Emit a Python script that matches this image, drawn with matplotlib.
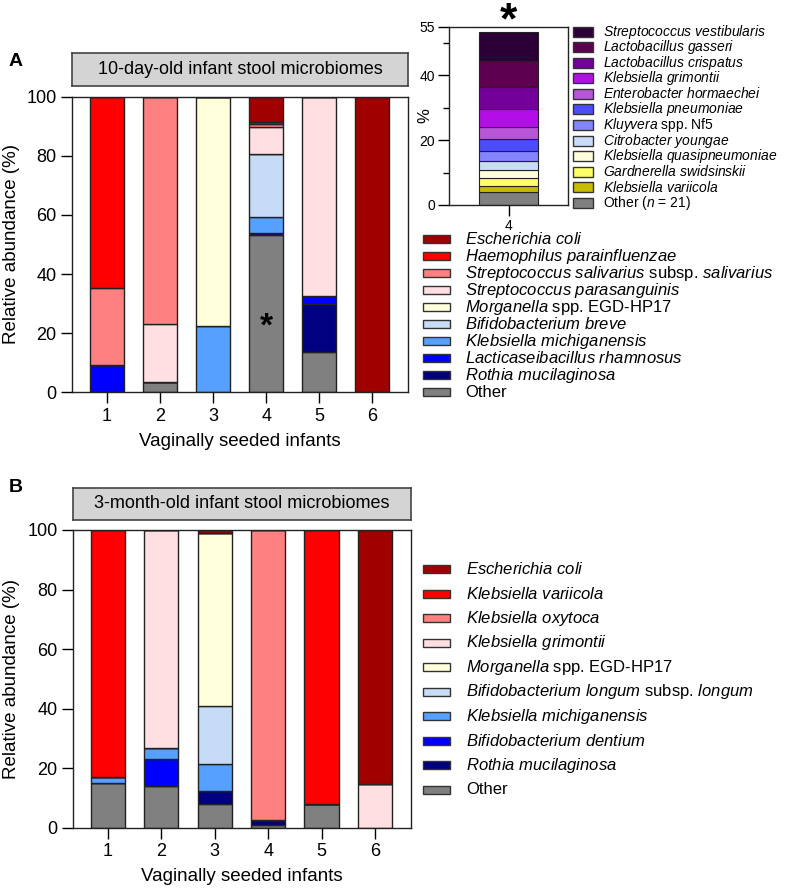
import numpy as np
import matplotlib
matplotlib.use("Agg")
import matplotlib.pyplot as plt
from matplotlib.patches import Rectangle

plt.rcParams['font.family'] = ['Liberation Sans', 'DejaVu Sans']
plt.rcParams['mathtext.fontset'] = 'custom'
plt.rcParams['mathtext.it'] = 'Liberation Sans:italic'
plt.rcParams['mathtext.rm'] = 'Liberation Sans'

infants = [1, 2, 3, 4, 5, 6]

# panel A, 10-day-old, stacked bottom -> top
species_a = [
    r"$\mathit{Escherichia\ coli}$",
    r"$\mathit{Haemophilus\ parainfluenzae}$",
    r"$\mathit{Streptococcus\ salivarius}$ subsp. $\mathit{salivarius}$",
    r"$\mathit{Streptococcus\ parasanguinis}$",
    r"$\mathit{Morganella}$ spp. EGD-HP17",
    r"$\mathit{Bifidobacterium\ breve}$",
    r"$\mathit{Klebsiella\ michiganensis}$",
    r"$\mathit{Lacticaseibacillus\ rhamnosus}$",
    r"$\mathit{Rothia\ mucilaginosa}$",
    "Other",
]
ecoli_a = [0, 0, 0, 8.7, 0, 100]
haemophilus_a = [64.8, 0, 0, 0.7, 0, 0]
salivarius_a = [26.0, 76.9, 0, 0.8, 0, 0]
parasanguinis_a = [0, 19.7, 0, 9.2, 67.4, 0]
morganella_a = [0, 0, 77.6, 0, 0, 0]
breve_a = [0, 0, 0, 21.2, 0, 0]
michiganensis_a = [0, 0, 22.4, 5.4, 0, 0]
rhamnosus_a = [9.2, 0, 0, 0, 2.7, 0]
rothia_a = [0, 0, 0, 0.8, 16.4, 0]
other_a = [0, 3.4, 0, 53.2, 13.5, 0]

# panel B, 3-month-old
species_b = [
    r"$\mathit{Escherichia\ coli}$",
    r"$\mathit{Klebsiella\ variicola}$",
    r"$\mathit{Klebsiella\ oxytoca}$",
    r"$\mathit{Klebsiella\ grimontii}$",
    r"$\mathit{Morganella}$ spp. EGD-HP17",
    r"$\mathit{Bifidobacterium\ longum}$ subsp. $\mathit{longum}$",
    r"$\mathit{Klebsiella\ michiganensis}$",
    r"$\mathit{Bifidobacterium\ dentium}$",
    r"$\mathit{Rothia\ mucilaginosa}$",
    "Other",
]
ecoli_b = [0, 0, 1.1, 0, 0, 85.2]
variicola_b = [82.9, 0, 0, 0, 92.1, 0]
oxytoca_b = [0, 0, 0, 97.4, 0, 0]
grimontii_b = [0, 73.3, 0, 0, 0, 14.8]
morganella_b = [0, 0, 58.0, 0, 0, 0]
longum_b = [0, 0, 19.6, 0, 0, 0]
michiganensis_b = [2.2, 3.6, 9.0, 0, 0, 0]
dentium_b = [0, 9.0, 0, 0, 0, 0]
rothia_b = [0, 0, 4.5, 1.8, 0, 0]
other_b = [14.9, 14.1, 7.8, 0.8, 7.9, 0]

# inset: "Other" of infant 4 (panel A)
species_inset = [
    r"$\mathit{Streptococcus\ vestibularis}$",
    r"$\mathit{Lactobacillus\ gasseri}$",
    r"$\mathit{Lactobacillus\ crispatus}$",
    r"$\mathit{Klebsiella\ grimontii}$",
    r"$\mathit{Enterobacter\ hormaechei}$",
    r"$\mathit{Klebsiella\ pneumoniae}$",
    r"$\mathit{Kluyvera}$ spp. Nf5",
    r"$\mathit{Citrobacter\ youngae}$",
    r"$\mathit{Klebsiella\ quasipneumoniae}$",
    r"$\mathit{Gardnerella\ swidsinskii}$",
    r"$\mathit{Klebsiella\ variicola}$",
    r"Other ($\mathit{n}$ = 21)",
]
inset_values = [9.1, 7.9, 7.0, 5.3, 3.9, 3.5, 3.1, 2.9, 2.6, 2.4, 1.7, 4.1]

colors_ab = ['#a00000', '#ff0000', '#ff8080', '#ffdfe1', '#ffffdc',
             '#c6dcf6', '#56a0ff', '#0000ff', '#000080', '#808080']
colors_inset = ['#2b0036', '#5e0050', '#74009a', '#b30ee8', '#b855d8', '#4c4cff',
                '#8484ff', '#c8dcf8', '#ffffdc', '#ffff66', '#c8bc00', '#808080']

W, H = 791, 891
fig = plt.figure(figsize=(W / 100, H / 100), dpi=100)


def rect(x0, y0, x1, y1):
    return [x0 / W, 1 - y1 / H, (x1 - x0) / W, (y1 - y0) / H]


def stacked(ax, series, colors, width):
    bottom = np.zeros(len(infants))
    for vals, c in zip(series, colors):
        ax.bar(infants, vals, width, bottom=bottom, color=c,
               edgecolor='#222222', linewidth=1.0)
        bottom += np.array(vals)


def style_axes(ax):
    ax.set_xlim(0.34, 6.67)
    ax.set_ylim(0, 100)
    ax.set_xticks(infants)
    ax.set_yticks([0, 20, 40, 60, 80, 100])
    ax.tick_params(length=8, width=1, labelsize=13, pad=3)
    for s in ax.spines.values():
        s.set_linewidth(1.0)
        s.set_color('#222222')
    ax.set_ylabel("Relative abundance (%)", fontsize=13.5, labelpad=5)
    ax.set_xlabel("Vaginally seeded infants", fontsize=13.5, labelpad=6)


def title_box(x0, y0, x1, y1, text):
    tb = fig.add_axes(rect(x0, y0, x1, y1))
    tb.set_facecolor('#d4d4d4')
    tb.set_xticks([])
    tb.set_yticks([])
    for s in tb.spines.values():
        s.set_linewidth(1.2)
        s.set_color('#444444')
    tb.text(0.5, 0.5, text, ha='center', va='center', fontsize=13,
            transform=tb.transAxes)


def legend(labels, colors, xp, y0, dy, pw, ph, xt, fs):
    for i, (lab, c) in enumerate(zip(labels, colors)):
        y = y0 + i * dy
        fig.patches.append(Rectangle((xp / W, 1 - (y + ph / 2) / H), pw / W, ph / H,
                                     transform=fig.transFigure, facecolor=c,
                                     edgecolor='#333333', linewidth=1.0))
        fig.text(xt / W, 1 - y / H, lab, ha='left', va='center', fontsize=fs)


# panel A
ax_a = fig.add_axes(rect(72, 96.7, 408, 392.3))
series_a = [other_a, rothia_a, rhamnosus_a, michiganensis_a, breve_a,
            morganella_a, parasanguinis_a, salivarius_a, haemophilus_a, ecoli_a]
stacked(ax_a, series_a, colors_ab[::-1], 0.64)
style_axes(ax_a)
ax_a.text(4, 22, "*", ha='center', va='center', fontsize=24, fontweight='bold')
title_box(72, 53.3, 408, 85.7, "10-day-old infant stool microbiomes")
fig.text(9 / W, 1 - 62 / H, "A", fontsize=14, fontweight='bold', va='center')
legend(species_a, colors_ab, 423, 239.3, 17.0, 27, 8, 465, 12)

# inset
ax_i = fig.add_axes(rect(449, 26.7, 568, 205))
bottom = 0.0
for v, c in zip(inset_values[::-1], colors_inset[::-1]):
    ax_i.bar([4], [v], 0.5, bottom=bottom, color=c, edgecolor='#222222', linewidth=0.8)
    bottom += v
ax_i.set_xlim(3.5, 4.5)
ax_i.set_ylim(0, 55)
ax_i.set_xticks([4])
ax_i.set_yticks([0, 20, 40, 55])
ax_i.set_yticks([10, 30, 50], minor=True)
ax_i.tick_params(length=8, width=1, labelsize=10, pad=2)
ax_i.tick_params(which='minor', length=4, width=1)
for s in ax_i.spines.values():
    s.set_linewidth(1.0)
    s.set_color('#222222')
ax_i.set_ylabel("%", fontsize=12)
ax_i.yaxis.set_label_coords(-0.14, 0.5)
fig.text(508 / W, 1 - 1 / H, "*", ha='center', va='top', fontsize=32, fontweight='bold')
legend(species_inset, colors_inset, 573, 31.7, 15.55, 20, 10, 603, 10)

# panel B
ax_b = fig.add_axes(rect(72.7, 530, 410.7, 827.7))
series_b = [other_b, rothia_b, dentium_b, michiganensis_b, longum_b,
            morganella_b, grimontii_b, oxytoca_b, variicola_b, ecoli_b]
stacked(ax_b, series_b, colors_ab[::-1], 0.64)
style_axes(ax_b)
title_box(72.7, 487.7, 410.7, 520.3, "3-month-old infant stool microbiomes")
fig.text(9 / W, 1 - 488 / H, "B", fontsize=14, fontweight='bold', va='center')
legend(species_b, colors_ab, 423, 569, 24.55, 27, 8, 466, 12)

fig.savefig("out.png", dpi=100)
